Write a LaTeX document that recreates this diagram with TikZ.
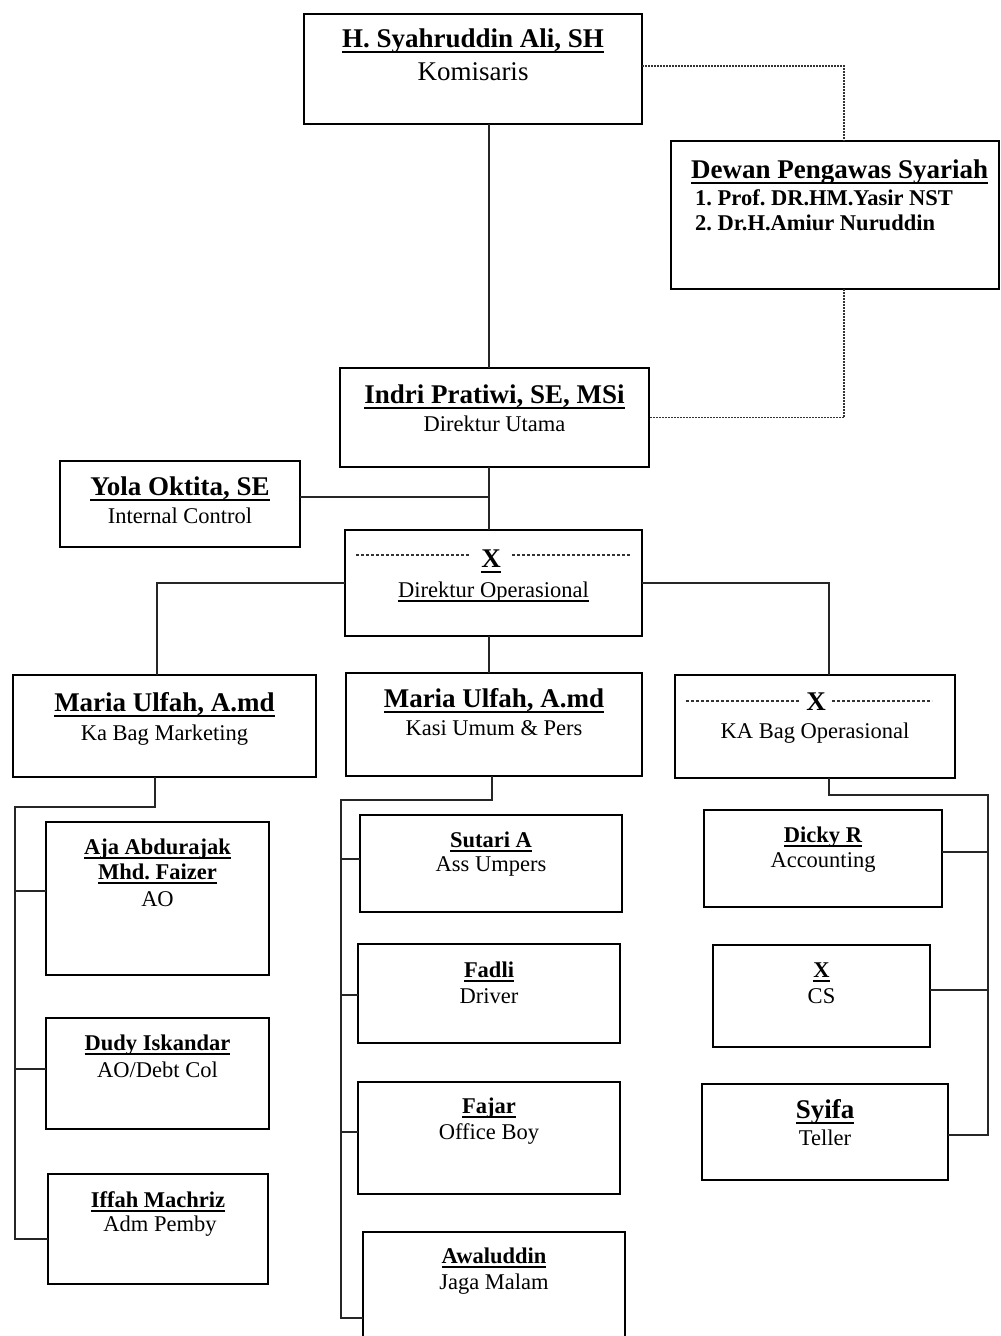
\documentclass[tikz,border=0pt]{standalone}
\usepackage{fontspec}
\setmainfont{Liberation Serif}
\usetikzlibrary{fit,calc}
\frenchspacing
\newsavebox{\ulbox}
\newcommand{\uln}[1]{\sbox{\ulbox}{#1}\rlap{\rule[-0.22em]{\wd\ulbox}{1.5pt}}\usebox{\ulbox}}
\newcommand{\bigf}{\fontsize{27}{32}\selectfont}
\newcommand{\smf}{\fontsize{22.5}{27}\selectfont}
\begin{document}
\begin{tikzpicture}[x=1pt,y=-1pt,
  box/.style={draw=black, line width=2.6pt, inner sep=0pt, outer sep=0pt},
  bname/.style={font=\bigf\bfseries, inner sep=0pt, anchor=base},
  brole/.style={font=\bigf, inner sep=0pt, anchor=base},
  sname/.style={font=\smf\bfseries, inner sep=0pt, anchor=base},
  srole/.style={font=\smf, inner sep=0pt, anchor=base},
  link/.style={draw=black!85, line width=1.8pt},
  dotlink/.style={draw=black!80, line width=1.5pt, dash pattern=on 1.5pt off 1.5pt},
  dashline/.style={draw=black!80, line width=1.1pt, dash pattern=on 3pt off 2pt}]
\useasboundingbox (0,0) rectangle (1001,1336);
\clip (0,0) rectangle (1001,1336);
\fill[white] (0,0) rectangle (1001,1336);

% boxes
\node[box, fit={(304,14) (642,124)}] (kom) {};
\node[box, fit={(671,141) (999,289)}] (dps) {};
\node[box, fit={(340,368) (649,467)}] (dir) {};
\node[box, fit={(60,461) (300,547)}] (yola) {};
\node[box, fit={(345,530) (642,636)}] (dop) {};
\node[box, fit={(13,675) (316,777)}] (mkt) {};
\node[box, fit={(346,673) (642,776)}] (kasi) {};
\node[box, fit={(675,675) (955,778)}] (kaop) {};
\node[box, fit={(46,822) (269,975)}] (aja) {};
\node[box, fit={(46,1018) (269,1129)}] (dudy) {};
\node[box, fit={(48,1174) (268,1284)}] (iffah) {};
\node[box, fit={(360,815) (622,912)}] (sutari) {};
\node[box, fit={(358,944) (620,1043)}] (fadli) {};
\node[box, fit={(358,1082) (620,1194)}] (fajar) {};
\node[box, fit={(363,1232) (625,1350)}] (awal) {};
\node[box, fit={(704,810) (942,907)}] (dicky) {};
\node[box, fit={(713,945) (930,1047)}] (cs) {};
\node[box, fit={(702,1084) (948,1180)}] (syifa) {};

% texts
\node[bname] (kom-n) at (473,47) {\uln{H. Syahruddin Ali, SH}};
\node[brole] (kom-r) at (473,80) {Komisaris};
\node[bname, anchor=base west] (dps-n) at (691,178) {\uln{Dewan Pengawas Syariah}};
\node[sname, anchor=base west] (dps-1) at (695,205) {1. Prof. DR.HM.Yasir NST};
\node[sname, anchor=base west] (dps-2) at (695,230) {2. Dr.H.Amiur Nuruddin};
\node[bname] (dir-n) at (494.5,403) {\uln{Indri Pratiwi, SE, MSi}};
\node[srole] (dir-r) at (494.5,431) {Direktur Utama};
\node[bname] (yola-n) at (180,495) {\uln{Yola Oktita, SE}};
\node[srole] (yola-r) at (180,523) {Internal Control};
\node[bname] (dop-x) at (491,567) {\uln{X}};
\node[srole] (dop-r) at (493.5,597) {\uln{Direktur Operasional}};
\node[bname] (mkt-n) at (164.5,711) {\uln{Maria Ulfah, A.md}};
\node[srole] (mkt-r) at (164.5,740) {Ka Bag Marketing};
\node[bname] (kasi-n) at (494,707) {\uln{Maria Ulfah, A.md}};
\node[srole] (kasi-r) at (494,735) {Kasi Umum \& Pers};
\node[bname] (kaop-x) at (816,710) {X};
\node[srole] (kaop-r) at (815,738) {KA Bag Operasional};
\node[sname] (aja-n1) at (157.5,854) {\uln{Aja Abdurajak}};
\node[sname] (aja-n2) at (157.5,879) {\uln{Mhd. Faizer}};
\node[srole] (aja-r) at (157.5,906) {AO};
\node[sname] (dudy-n) at (157.5,1050) {\uln{Dudy Iskandar}};
\node[srole] (dudy-r) at (157.5,1077) {AO/Debt Col};
\node[sname] (iffah-n) at (158,1207) {\uln{Iffah Machriz}};
\node[srole] (iffah-r) at (160,1231) {Adm Pemby};
\node[sname] (sutari-n) at (491,847) {\uln{Sutari A}};
\node[srole] (sutari-r) at (491,871) {Ass Umpers};
\node[sname] (fadli-n) at (489,977) {\uln{Fadli}};
\node[srole] (fadli-r) at (489,1003) {Driver};
\node[sname] (fajar-n) at (489,1113) {\uln{Fajar}};
\node[srole] (fajar-r) at (489,1139) {Office Boy};
\node[sname] (awal-n) at (494,1263) {\uln{Awaluddin}};
\node[srole] (awal-r) at (494,1289) {Jaga Malam};
\node[sname] (dicky-n) at (823,842) {\uln{Dicky R}};
\node[srole] (dicky-r) at (823,867) {Accounting};
\node[sname] (cs-x) at (821.5,977) {\uln{X}};
\node[srole] (cs-r) at (821.5,1003) {CS};
\node[bname] (syifa-n) at (825,1118) {\uln{Syifa}};
\node[srole] (syifa-r) at (825,1145) {Teller};

% dashed decorations beside X
\draw[dashline] (356,555) -- (469,555);
\draw[dashline] (512,555) -- (631,555);
\draw[dashline] (686,701) -- (800,701);
\draw[dashline] (832,701) -- (932,701);

% helper coordinates
\coordinate (xa) at (489,0);
\coordinate (xd) at (844,0);
\coordinate (xm) at (157,0);
\coordinate (xk) at (829,0);
\coordinate (yj) at (489,497);
\coordinate (yk) at (0,66);

% main connectors
\draw[link] (kom.south -| xa) -- (dir.north -| xa);
\draw[link] (dir.south -| xa) -- (dop.north -| xa);
\draw[link] (yj -| yola.east) -- (yj);
\draw[link] (dop.south -| xa) -- (kasi.north -| xa);
\draw[link] (dop.west) -| (mkt.north -| xm);
\draw[link] (dop.east) -| (kaop.north -| xk);

% dotted links
\draw[dotlink] (kom.east |- yk) -| (dps.north -| xd);
\draw[dotlink] (dps.south -| xd) |- (dir.east);

% marketing bus
\coordinate (mt) at (155,807);
\coordinate (mb) at (15,807);
\coordinate (mb1) at (15,891);
\coordinate (mb2) at (15,1069);
\coordinate (mb3) at (15,1239);
\draw[link] (mkt.south -| mt) -- (mt) -- (mb) -- (mb3) -- (mb3 -| iffah.west);
\draw[link] (mb1) -- (mb1 -| aja.west);
\draw[link] (mb2) -- (mb2 -| dudy.west);

% kasi bus
\coordinate (kt) at (492,800);
\coordinate (kb) at (341,800);
\coordinate (kb1) at (341,859);
\coordinate (kb2) at (341,995);
\coordinate (kb3) at (341,1132);
\coordinate (kb4) at (341,1318);
\draw[link] (kasi.south -| kt) -- (kt) -- (kb) -- (kb4) -- (kb4 -| awal.west);
\draw[link] (kb1) -- (kb1 -| sutari.west);
\draw[link] (kb2) -- (kb2 -| fadli.west);
\draw[link] (kb3) -- (kb3 -| fajar.west);

% ka op bus
\coordinate (ot) at (829,795);
\coordinate (ob) at (988,795);
\coordinate (ob1) at (988,852);
\coordinate (ob2) at (988,990);
\coordinate (ob3) at (988,1135);
\draw[link] (kaop.south -| ot) -- (ot) -- (ob) -- (ob3) -- (ob3 -| syifa.east);
\draw[link] (ob1) -- (ob1 -| dicky.east);
\draw[link] (ob2) -- (ob2 -| cs.east);
\end{tikzpicture}
\end{document}
